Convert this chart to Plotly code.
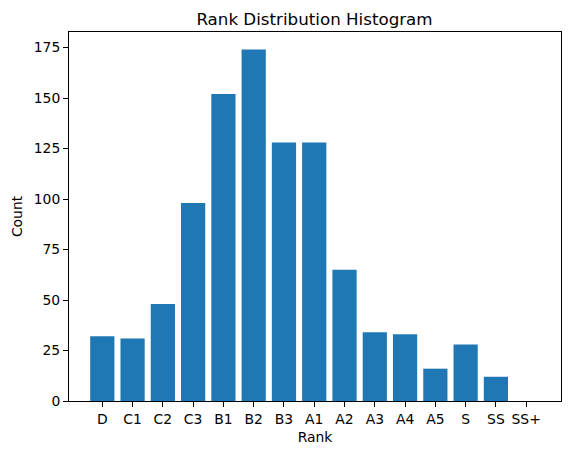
import plotly.graph_objects as go

ranks = ['D', 'C1', 'C2', 'C3', 'B1', 'B2', 'B3', 'A1', 'A2', 'A3', 'A4', 'A5', 'S', 'SS', 'SS+']
counts = [32, 31, 48, 98, 152, 174, 128, 128, 65, 34, 33, 16, 28, 12, 0]
y_ticks = [0, 25, 50, 75, 100, 125, 150, 175]

font_name = 'DejaVu Sans'

fig = go.Figure()
fig.add_trace(go.Bar(
    x=ranks,
    y=counts,
    marker=dict(color='#1f77b4', line=dict(width=0)),
    width=0.8,
))

axis_style = dict(
    showline=True, linecolor='black', linewidth=1, mirror=True,
    ticks='outside', ticklen=5, tickcolor='black', tickwidth=1,
    showgrid=False, zeroline=False,
    tickfont=dict(family=font_name, size=13.9, color='black'),
)

# page body has an 8px margin, so the figure is shrunk to fit the window
fig.update_layout(
    width=563, height=447,
    paper_bgcolor='white', plot_bgcolor='white',
    margin=dict(l=59, r=9, t=24, b=54),
    showlegend=False,
    title=dict(text='Rank Distribution Histogram', x=(59 + 554) / 2 / 563, xanchor='center',
               y=1 - 11 / 447, yanchor='middle',
               font=dict(family=font_name, size=16.7, color='black')),
    xaxis=dict(axis_style, range=[-1.1, 15.15],
               title=dict(text='Rank', standoff=6, font=dict(family=font_name, size=13.9, color='black'))),
    yaxis=dict(axis_style, range=[0, 182.7], tickvals=y_ticks,
               title=dict(text='Count', standoff=7, font=dict(family=font_name, size=13.9, color='black'))),
)

fig.write_html("out.html")
